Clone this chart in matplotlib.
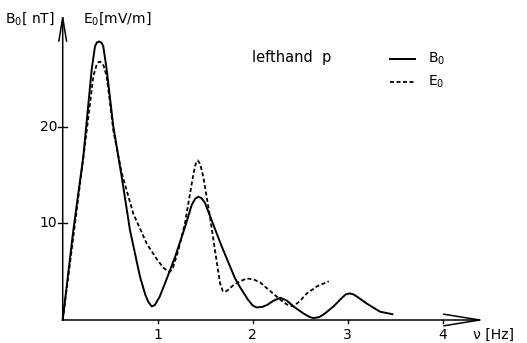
import matplotlib
matplotlib.use("Agg")
import matplotlib.pyplot as plt

# Data (frequency in Hz)
freq_b = [0, 0.112, 0.217, 0.305, 0.34, 0.36, 0.385, 0.41, 0.427, 0.463,
          0.533, 0.621, 0.708, 0.813, 0.87, 0.9, 0.937, 0.97, 1.02, 1.077,
          1.182, 1.287, 1.358, 1.395, 1.427, 1.46, 1.498, 1.568, 1.674, 1.814,
          1.866, 1.95, 2.0, 2.04, 2.1, 2.15, 2.22, 2.29, 2.36, 2.43, 2.53,
          2.6, 2.64, 2.7, 2.75, 2.85, 2.94, 2.98, 3.02, 3.06, 3.1, 3.2, 3.34,
          3.47]
b0 = [0, 9.3, 16.9, 25.9, 28.3, 28.7, 28.8, 28.65, 28.3, 25.9,
      20.0, 14.8, 9.3, 4.5, 2.6, 1.9, 1.4, 1.55, 2.4, 3.8,
      6.5, 9.6, 11.9, 12.55, 12.75, 12.6, 12.1, 10.3, 7.6, 4.3,
      3.4, 2.1, 1.5, 1.3, 1.35, 1.55, 2.0, 2.3, 2.0, 1.4, 0.7,
      0.3, 0.2, 0.3, 0.6, 1.4, 2.3, 2.65, 2.75, 2.65, 2.4, 1.7, 0.86,
      0.6]

freq_e = [0, 0.112, 0.253, 0.322, 0.36, 0.375, 0.393, 0.412, 0.43, 0.463,
          0.533, 0.621, 0.743, 0.884, 0.99, 1.06, 1.1, 1.13, 1.16, 1.217,
          1.287, 1.358, 1.39, 1.405, 1.421, 1.437, 1.45, 1.48, 1.55, 1.603,
          1.656, 1.685, 1.708, 1.74, 1.796, 1.866, 1.937, 2.006, 2.077, 2.147,
          2.22, 2.29, 2.36, 2.43, 2.5, 2.57, 2.68, 2.8]
e0 = [0, 8.6, 19.6, 25.2, 26.5, 26.65, 26.7, 26.6, 26.3, 25.2,
      19.6, 15.2, 11.0, 7.9, 6.3, 5.4, 5.1, 5.0, 5.4, 7.2,
      10.0, 14.1, 15.8, 16.3, 16.5, 16.3, 16.0, 14.8, 10.7, 7.2,
      3.8, 3.0, 2.9, 3.1, 3.6, 4.0, 4.3, 4.2, 3.9, 3.3,
      2.7, 2.1, 1.6, 1.4, 2.0, 2.75, 3.5, 4.0]

x_ticks = [1, 2, 3, 4]
y_ticks = [10, 20]

fig = plt.figure(figsize=(5.27, 3.43), dpi=100)
ax = fig.add_axes([0, 0, 1, 1])
ax.set_xlim(-0.66, 4.887)
ax.set_ylim(-2.378, 33.09)
ax.axis("off")

lw = 1.4
ax.plot(freq_b, b0, color="black", lw=lw, solid_joinstyle="round")
ax.plot(freq_e, e0, color="black", lw=1.3, dashes=(2.2, 1.4))

# axes with open arrow heads
ax.annotate("", xy=(4.44, 0), xytext=(0, 0),
            arrowprops=dict(arrowstyle="->,head_length=26,head_width=4.2",
                            mutation_scale=1, lw=1.1, color="black",
                            shrinkA=0, shrinkB=0))
ax.annotate("", xy=(0, 31.75), xytext=(0, 0),
            arrowprops=dict(arrowstyle="->,head_length=17,head_width=2.8",
                            mutation_scale=1, lw=1.1, color="black",
                            shrinkA=0, shrinkB=0))

fs = 10
for t in x_ticks:
    ax.plot([t, t], [0, -0.35], color="black", lw=1)
    ax.text(t, -1.55, str(t), ha="center", va="center", fontsize=fs)
for t in y_ticks:
    ax.plot([-0.045, 0.045], [t, t], color="black", lw=1)
    ax.text(-0.06, t, str(t), ha="right", va="center", fontsize=fs)

ax.text(-0.607, 31.2, "B$_0$[ nT]", ha="left", va="center", fontsize=fs)
ax.text(0.214, 31.2, "E$_0$[mV/m]", ha="left", va="center", fontsize=fs)
ax.text(4.32, -1.55, "ν [Hz]", ha="left", va="center", fontsize=fs)
ax.text(1.99, 27.1, "lefthand  p", ha="left", va="center", fontsize=fs + 0.5)

# legend drawn by hand
ax.plot([3.45, 3.71], [27.0, 27.0], color="black", lw=lw)
ax.plot([3.45, 3.71], [24.6, 24.6], color="black", lw=1.3, dashes=(2.2, 1.4))
ax.text(3.85, 27.0, "B$_0$", ha="left", va="center", fontsize=fs)
ax.text(3.85, 24.6, "E$_0$", ha="left", va="center", fontsize=fs)

fig.savefig("out.png", dpi=100)
